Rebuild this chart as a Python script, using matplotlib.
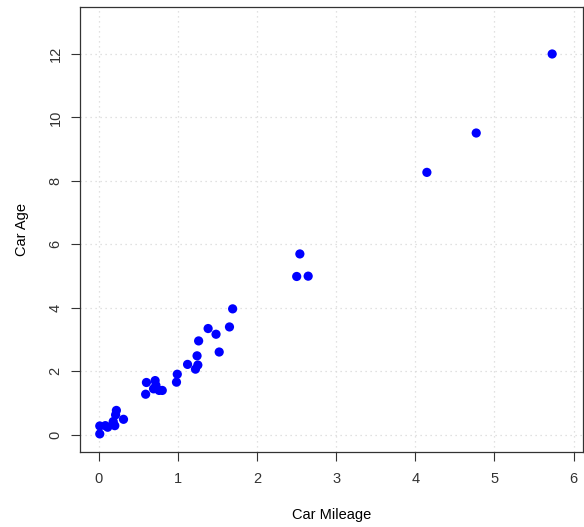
import matplotlib
matplotlib.use("Agg")
import matplotlib.pyplot as plt

plt.rcParams.update({
    "font.family": ["Liberation Sans", "DejaVu Sans"], "font.size": 10.5,
    "axes.linewidth": 0.9, "axes.edgecolor": "#333333",
    "xtick.major.size": 6.5, "ytick.major.size": 6.5,
    "xtick.major.width": 0.8, "ytick.major.width": 0.8,
    "xtick.color": "#333333", "ytick.color": "#333333",
})

# car mileage vs car age
mileage = [0.01, 0.01, 0.08, 0.11, 0.18, 0.20, 0.21, 0.22, 0.31,
           0.59, 0.60, 0.71, 0.72, 0.69, 0.76, 0.80, 0.98, 0.99,
           1.12, 1.22, 1.25, 1.24, 1.26, 1.38, 1.48, 1.52, 1.65, 1.69,
           2.50, 2.645, 2.54, 4.146, 4.77, 5.73]
age = [0.03, 0.28, 0.29, 0.24, 0.42, 0.29, 0.63, 0.77, 0.49,
       1.28, 1.65, 1.71, 1.56, 1.45, 1.40, 1.40, 1.66, 1.91,
       2.22, 2.07, 2.20, 2.49, 2.96, 3.35, 3.17, 2.61, 3.40, 3.97,
       4.99, 5.00, 5.70, 8.27, 9.51, 12.0]
x_ticks = [0, 1, 2, 3, 4, 5, 6]
y_ticks = [0, 2, 4, 6, 8, 10, 12]

fig = plt.figure(figsize=(5.84, 5.27), dpi=100)
ax = fig.add_axes([80 / 584, 75 / 527, 503 / 584, 445 / 527])

ax.set_xlim(-0.24, 6.12)
ax.set_ylim(-0.54, 13.48)
ax.set_xticks(x_ticks)
ax.set_yticks(y_ticks)
ax.tick_params(axis="y", labelrotation=90, pad=6)
ax.tick_params(axis="x", pad=8)
for lbl in ax.get_yticklabels():
    lbl.set_va("center")

ax.grid(True, color="#d8d8d8", ls=(0, (1, 3)), lw=0.9)
ax.set_axisbelow(True)

ax.scatter(mileage, age, s=44, color="#0000FF", edgecolors="none", zorder=3)

ax.set_xlabel("Car Mileage", labelpad=16)
ax.set_ylabel("Car Age", labelpad=14)

fig.savefig("out.png", dpi=100)
